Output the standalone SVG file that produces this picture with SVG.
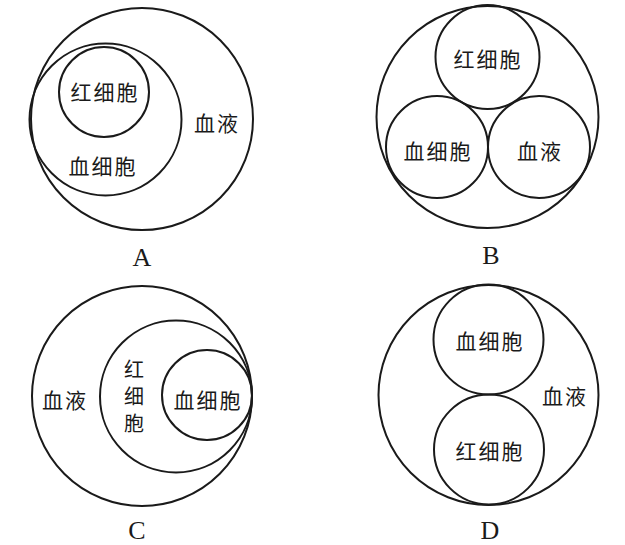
<svg xmlns="http://www.w3.org/2000/svg" width="625" height="545" viewBox="0 0 625 545">
<style>
.c{fill:none;stroke:#1a1a1a;stroke-width:2}
.t{font-family:"Noto Sans CJK SC","Noto Sans",sans-serif;font-size:21px;letter-spacing:2px;fill:#1a1a1a;text-anchor:middle;dominant-baseline:central}
.v{font-family:"Noto Sans CJK SC","Noto Sans",sans-serif;font-size:20px;fill:#1a1a1a;text-anchor:middle;dominant-baseline:central}
.l{font-family:"Liberation Serif",serif;font-size:26px;fill:#1a1a1a;text-anchor:middle}
</style>
<rect width="625" height="545" fill="#fff"/>
<g id="A">
<circle class="c" cx="142" cy="119" r="111"/>
<circle class="c" cx="105.5" cy="119.5" r="76"/>
<circle class="c" cx="104" cy="92" r="45"/>
<text class="t" x="105" y="91">红细胞</text>
<text class="t" x="103" y="165">血细胞</text>
<text class="t" x="217" y="122">血液</text>
<text class="l" x="142" y="266">A</text>
</g>
<g id="B">
<circle class="c" cx="487.5" cy="117" r="111"/>
<circle class="c" cx="487.5" cy="57" r="52"/>
<circle class="c" cx="437" cy="147" r="51"/>
<circle class="c" cx="539" cy="147" r="51"/>
<text class="t" x="488" y="58">红细胞</text>
<text class="t" x="438" y="150">血细胞</text>
<text class="t" x="540" y="150">血液</text>
<text class="l" x="491" y="264">B</text>
</g>
<g id="C">
<circle class="c" cx="142" cy="396" r="110"/>
<circle class="c" cx="176" cy="396.5" r="76"/>
<circle class="c" cx="207" cy="395" r="45"/>
<text class="t" x="65" y="399">血液</text>
<text class="v" x="134" y="368">红</text>
<text class="v" x="134" y="395">细</text>
<text class="v" x="134" y="422">胞</text>
<text class="t" x="208" y="399">血细胞</text>
<text class="l" x="137" y="539">C</text>
</g>
<g id="D">
<circle class="c" cx="488.5" cy="395" r="110"/>
<circle class="c" cx="488.5" cy="339.5" r="55"/>
<circle class="c" cx="489" cy="449.5" r="55"/>
<text class="t" x="490" y="340">血细胞</text>
<text class="t" x="490" y="450">红细胞</text>
<text class="t" x="565" y="395">血液</text>
<text class="l" x="490" y="539">D</text>
</g>
</svg>
